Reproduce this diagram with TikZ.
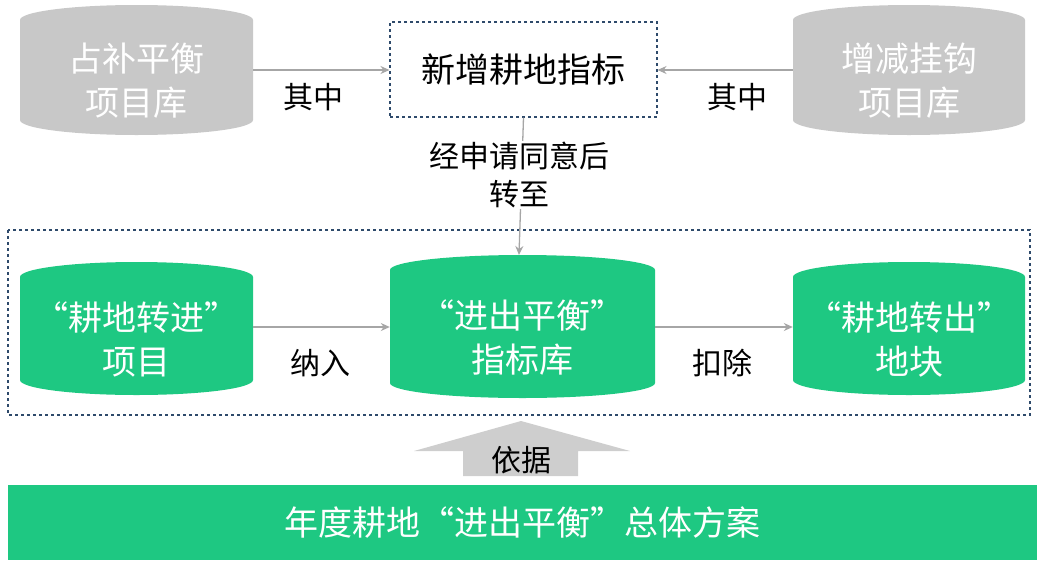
\documentclass[tikz,border=0pt]{standalone}
\usepackage{fontspec}
\setmainfont{Noto Sans CJK SC}
\usetikzlibrary{arrows.meta}
\definecolor{cgray}{HTML}{C8C8C8}
\definecolor{cgreen}{HTML}{1EC882}
\definecolor{dblue}{HTML}{2E4A6B}
\definecolor{agray}{HTML}{A6A6A6}
\newcommand{\cyl}[7]{%
  \pgfmathsetmacro{\rx}{(#4-#2)/2}%
  \fill[#6] (#2,#3+15) -- (#2,#5-15) arc[start angle=180,end angle=0,x radius=\rx,y radius=15]
     -- (#4,#3+15) arc[start angle=0,end angle=-180,x radius=\rx,y radius=15] -- cycle;
  \node[inner sep=0,minimum width=#4-#2,minimum height=#5-#3,text=white,font=\fontsize{34}{44}\selectfont,align=center]
     (#1) at ({(#2+#4)/2},{(#3+#5)/2+11}) {#7};}
\tikzset{
  conn/.style={draw=agray,line width=1.3pt,-{Stealth[length=9pt,width=8pt]}},
  lbl/.style={font=\fontsize{30}{38}\selectfont,text=black},
  dbox/.style={draw=dblue,dashed,line width=1.1pt}
}
\begin{document}
\begin{tikzpicture}[x=1pt,y=-1pt]
\useasboundingbox (0,0) rectangle (1045,568);
\cyl{zb}{20}{5}{253}{135}{cgray}{占补平衡\\项目库}
\cyl{zj}{793}{5}{1025}{135}{cgray}{增减挂钩\\项目库}
\node[dbox,minimum width=267,minimum height=95,font=\fontsize{34}{40}\selectfont] (xz) at (523.5,69.5) {新增耕地指标};
\draw[conn] (zb.east|-0,70) -- (xz.west|-0,70);
\draw[conn] (zj.west|-0,70) -- (xz.east|-0,70);
\node[lbl] (q1) at (313,97) {其中};
\node[lbl] (q2) at (737,97) {其中};
\draw[dbox] (8,230) rectangle (1030,415);
\cyl{gl}{20}{262}{253}{395}{cgreen}{“耕地转进”\\项目}
\cyl{gm}{390}{255}{655}{398}{cgreen}{“进出平衡”\\指标库}
\cyl{gr}{793}{262}{1025}{395}{cgreen}{“耕地转出”\\地块}
\draw[conn] (xz.south) -- (519,255);
\node[lbl,fill=white,align=center,inner sep=1pt] (sq) at (519,175) {经申请同意后\\转至};
\draw[conn] (gl.east|-0,327) -- (gm.west|-0,327);
\draw[conn] (gm.east|-0,327) -- (gr.west|-0,327);
\node[lbl] (nr) at (320,363) {纳入};
\node[lbl] (kc) at (722,363) {扣除};
\fill[cgray!90] (463,476) -- (463,451) -- (414,451) -- (521,421) -- (630,451) -- (578,451) -- (578,476) -- cycle;
\node[lbl] (yj) at (521,460) {依据};
\node[fill=cgreen,minimum width=1029,minimum height=75,inner sep=0,text=white,font=\fontsize{34}{40}\selectfont] (fa) at (522.5,522.5) {年度耕地“进出平衡”总体方案};
\end{tikzpicture}
\end{document}
